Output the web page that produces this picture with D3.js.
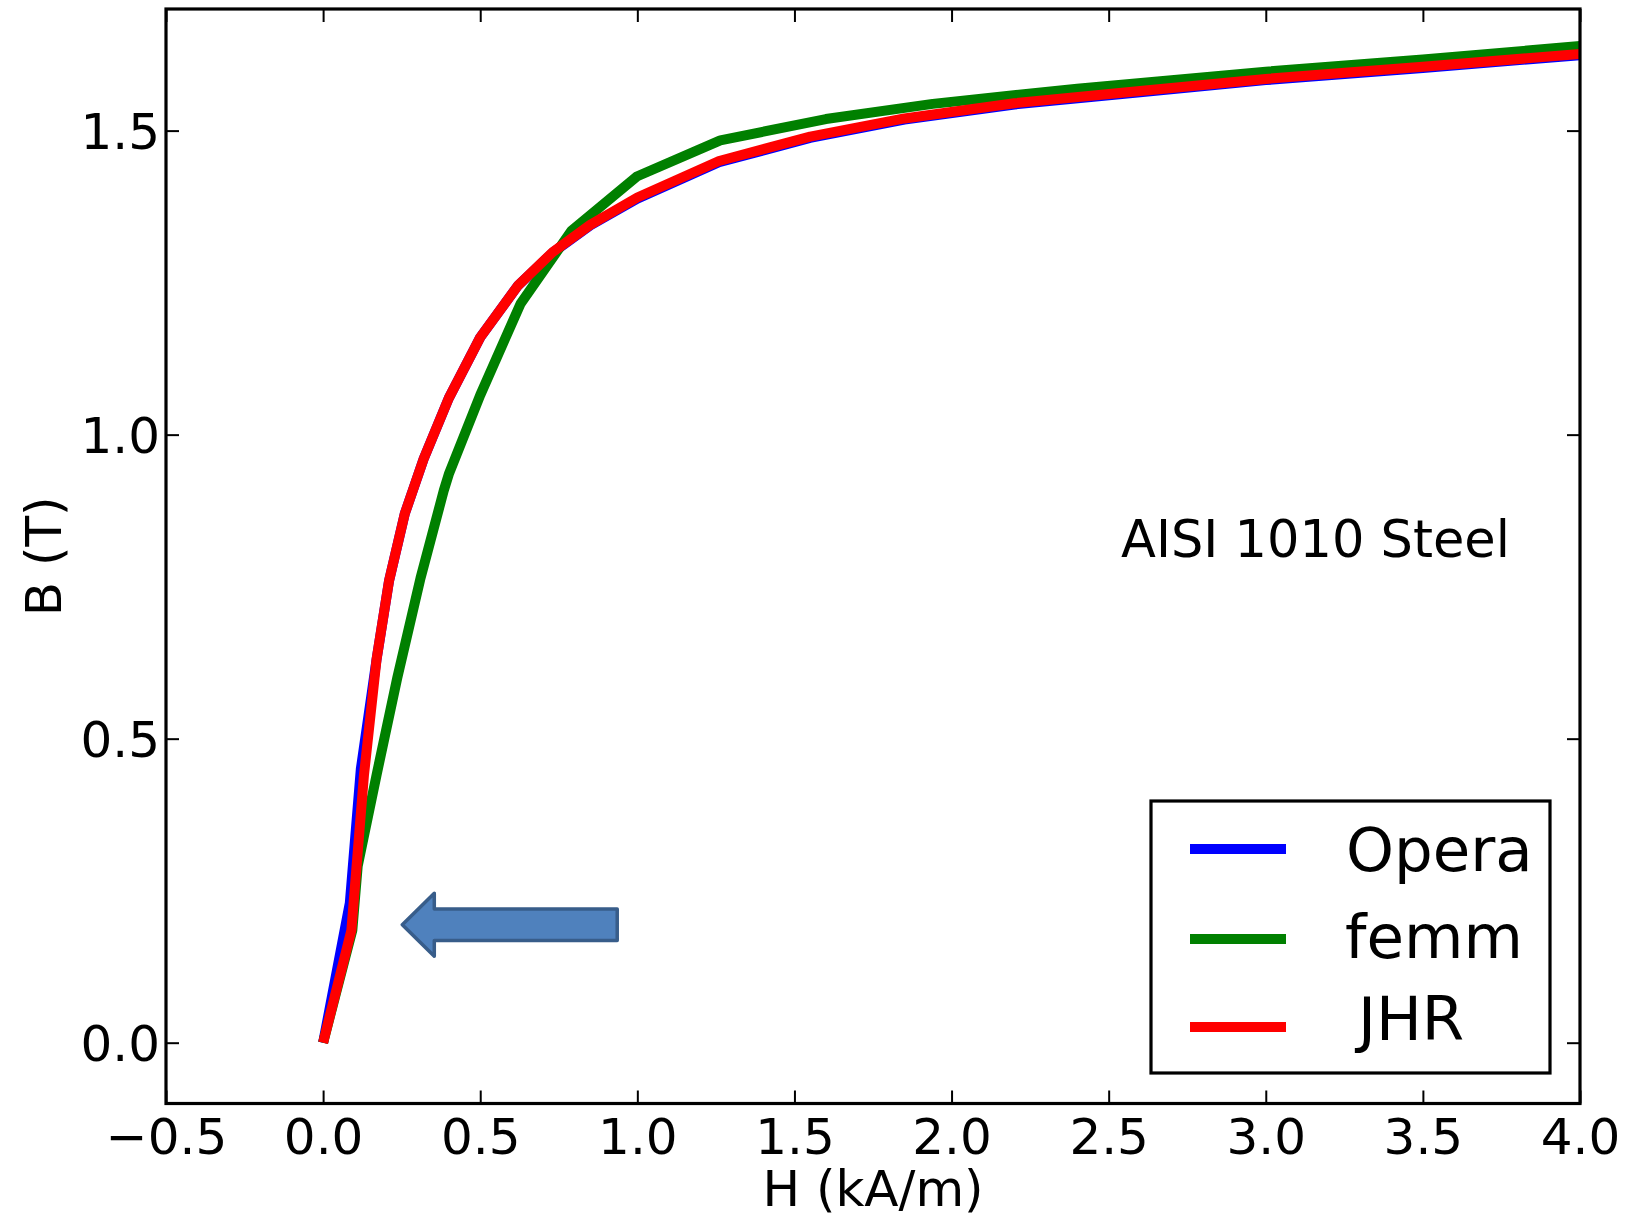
<!DOCTYPE html>
<html><head><meta charset="utf-8">
<script src="https://cdn.jsdelivr.net/npm/d3@7"></script>
<style>
body{margin:0;background:#fff;}
svg{display:block;}
text{font-family:"DejaVu Sans";fill:#000;}
</style>
</head><body>
<svg id="chart" width="1637" height="1218"></svg>
<script>
// ---------- data ----------
const seriesNames = ["Opera", "femm", "JHR"];
const seriesColors = ["#0000ff", "#008000", "#ff0000"];

const operaH = [0, 0.085, 0.12, 0.17, 0.21, 0.26, 0.32, 0.40, 0.50, 0.62, 0.73, 0.85, 1.0, 1.26, 1.55, 1.85, 2.2, 2.6, 3.0, 3.5, 4.0];
const operaB = [0, 0.23, 0.45, 0.63, 0.76, 0.87, 0.96, 1.06, 1.16, 1.245, 1.299, 1.344, 1.388, 1.448, 1.488, 1.518, 1.543, 1.563, 1.583, 1.603, 1.624];

const femmH = [0, 0.093, 0.11, 0.17, 0.236, 0.31, 0.384, 0.40, 0.50, 0.628, 0.79, 1.0, 1.264, 1.6, 1.94, 2.4, 3.0, 3.5, 4.0];
const femmB = [0, 0.185, 0.29, 0.44, 0.60, 0.764, 0.908, 0.935, 1.065, 1.215, 1.335, 1.425, 1.484, 1.519, 1.544, 1.569, 1.597, 1.617, 1.639];

const jhrH = [0, 0.09, 0.13, 0.17, 0.21, 0.26, 0.32, 0.40, 0.50, 0.62, 0.73, 0.85, 1.0, 1.26, 1.55, 1.85, 2.2, 2.6, 3.0, 3.5, 4.0];
const jhrB = [0, 0.185, 0.44, 0.63, 0.76, 0.87, 0.96, 1.06, 1.16, 1.245, 1.30, 1.345, 1.39, 1.45, 1.49, 1.52, 1.545, 1.565, 1.585, 1.605, 1.626];

const xDomain = [-0.5, 4.0];
const yDomain = [-0.1, 1.7];
const xTicks = [-0.5, 0.0, 0.5, 1.0, 1.5, 2.0, 2.5, 3.0, 3.5, 4.0];
const xTickLabels = ["\u22120.5", "0.0", "0.5", "1.0", "1.5", "2.0", "2.5", "3.0", "3.5", "4.0"];
const yTicks = [0.0, 0.5, 1.0, 1.5];
const yTickLabels = ["0.0", "0.5", "1.0", "1.5"];
const xLabel = "H (kA/m)";
const yLabel = "B (T)";
const annotationText = "AISI 1010 Steel";
const arrowTip = [0.252, 0.194];          // data coords
const arrowTailH = 0.936;

// ---------- layout ----------
const svg = d3.select("#chart");
const L = 166, R = 1580, T = 9, B = 1103.5;
const x = d3.scaleLinear().domain(xDomain).range([L, R]);
const y = d3.scaleLinear().domain(yDomain).range([B, T]);
const FS = 50;

// axes
const tickLen = 13;
const gx = svg.append("g").attr("transform", `translate(0,${B})`)
  .call(d3.axisBottom(x).tickValues(xTicks).tickFormat((d, i) => xTickLabels[i])
    .tickSizeInner(-tickLen).tickSizeOuter(0).tickPadding(14.5));
const gxt = svg.append("g").attr("transform", `translate(0,${T})`)
  .call(d3.axisTop(x).tickValues(xTicks).tickFormat("")
    .tickSizeInner(-tickLen).tickSizeOuter(0));
const gy = svg.append("g").attr("transform", `translate(${L},0)`)
  .call(d3.axisLeft(y).tickValues(yTicks).tickFormat((d, i) => yTickLabels[i])
    .tickSizeInner(-tickLen).tickSizeOuter(0).tickPadding(6));
const gyr = svg.append("g").attr("transform", `translate(${R},0)`)
  .call(d3.axisRight(y).tickValues(yTicks).tickFormat("")
    .tickSizeInner(-tickLen).tickSizeOuter(0));
[gx, gxt, gy, gyr].forEach(g => {
  g.select(".domain").remove();
  g.selectAll(".tick line").attr("stroke", "#000").attr("stroke-width", 2);
  g.selectAll("text").attr("font-family", "DejaVu Sans").attr("font-size", FS).attr("fill", "#000");
});
gy.selectAll("text").attr("dy", "0.35em");

// curves
const line = d3.line().x(d => x(d[0])).y(d => y(d[1]));
const seriesData = [
  d3.zip(operaH, operaB),
  d3.zip(femmH, femmB),
  d3.zip(jhrH, jhrB)
];
svg.append("clipPath").attr("id", "clip")
  .append("rect").attr("x", L).attr("y", T).attr("width", R - L).attr("height", B - T);
svg.append("g").attr("clip-path", "url(#clip)")
  .selectAll("path").data(seriesData).join("path")
  .attr("d", line)
  .attr("fill", "none")
  .attr("stroke", (d, i) => seriesColors[i])
  .attr("stroke-width", 10)
  .attr("stroke-linejoin", "round")
  .attr("stroke-linecap", "butt");

// frame
svg.append("rect").attr("x", L).attr("y", T).attr("width", R - L).attr("height", B - T)
  .attr("fill", "none").attr("stroke", "#000").attr("stroke-width", 3.2);

// axis labels
svg.append("text").attr("x", (L + R) / 2).attr("y", 1206).attr("text-anchor", "middle")
  .attr("font-size", FS).text(xLabel);
svg.append("text").attr("transform", `translate(61,${(T + B) / 2}) rotate(-90)`)
  .attr("text-anchor", "middle").attr("font-size", FS).text(yLabel);

// annotation
svg.append("text").attr("x", 1121).attr("y", 556.5).attr("font-size", 51).text(annotationText);

// arrow (block arrow pointing left)
const tipX = x(arrowTip[0]), cy = y(arrowTip[1]), tailX = x(arrowTailH);
const headLen = 32, headHalf = 31.5, shaftHalf = 15.8;
const arrowPts = [
  [tipX, cy], [tipX + headLen, cy - headHalf], [tipX + headLen, cy - shaftHalf],
  [tailX, cy - shaftHalf], [tailX, cy + shaftHalf], [tipX + headLen, cy + shaftHalf],
  [tipX + headLen, cy + headHalf]
];
svg.append("path").attr("d", d3.line()(arrowPts) + "Z")
  .attr("fill", "#4F81BD").attr("stroke", "#385D8A").attr("stroke-width", 3.5)
  .attr("stroke-linejoin", "round");

// legend
const lg = svg.append("g");
lg.append("rect").attr("x", 1151).attr("y", 801).attr("width", 399).attr("height", 272)
  .attr("fill", "#fff").attr("stroke", "#000").attr("stroke-width", 3.2);
const legLineY = [849, 939, 1027];
const legTextY = [871, 958, 1040];
const legTextX = [1346, 1345, 1358];
seriesNames.forEach((n, i) => {
  lg.append("line").attr("x1", 1190).attr("x2", 1286).attr("y1", legLineY[i]).attr("y2", legLineY[i])
    .attr("stroke", seriesColors[i]).attr("stroke-width", 10);
  lg.append("text").attr("x", legTextX[i]).attr("y", legTextY[i])
    .attr("font-family", "Lato").attr("font-size", 61).text(n);
});
</script>
</body></html>
